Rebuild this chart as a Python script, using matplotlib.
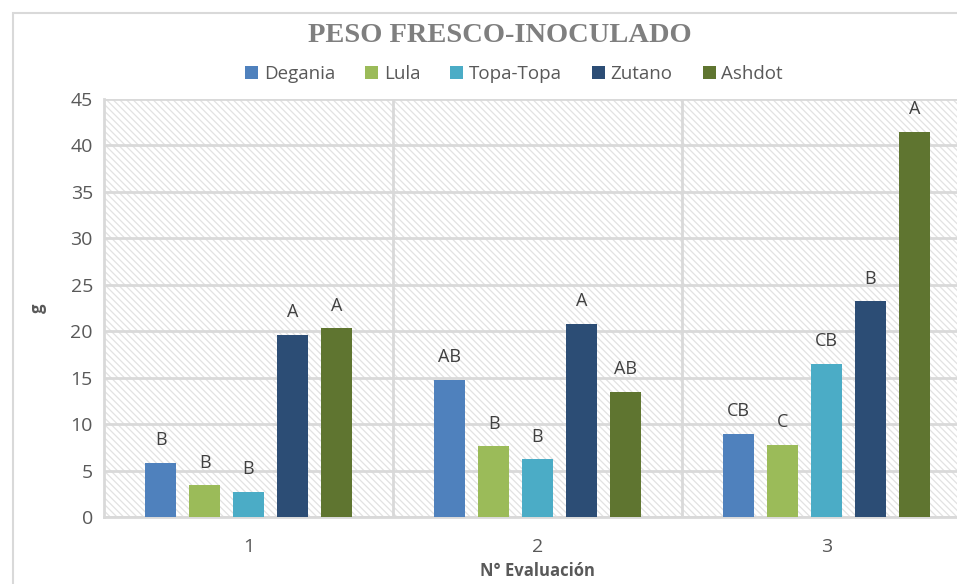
import numpy as np
import matplotlib.pyplot as plt
from matplotlib.patches import Rectangle

# data
evaluations = ['1', '2', '3']
varieties = ['Degania', 'Lula', 'Topa-Topa', 'Zutano', 'Ashdot']
degania = [5.8, 14.8, 8.9]
lula = [3.4, 7.6, 7.8]
topa = [2.7, 6.2, 16.5]
zutano = [19.6, 20.8, 23.2]
ashdot = [20.3, 13.5, 41.5]
letters = [['B', 'AB', 'CB'],
           ['B', 'B', 'C'],
           ['B', 'B', 'CB'],
           ['A', 'A', 'B'],
           ['A', 'AB', 'A']]

series = [degania, lula, topa, zutano, ashdot]
colors = ['#4F81BD', '#9BBB59', '#4BACC6', '#2C4D75', '#5F7530']
grey = '#595959'
font = 'Open Sans'
plt.rcParams['hatch.color'] = '#E2E2E2'
plt.rcParams['hatch.linewidth'] = 0.9

fig = plt.figure(figsize=(9.57, 5.84), dpi=100)
ax = fig.add_axes([104 / 957, 1 - 517 / 584, 867 / 957, 418 / 584])

# outer chart border
fig.patches.append(Rectangle((13 / 957, -0.1), 1.2, 1 - 13 / 584 + 0.1,
                             transform=fig.transFigure, fill=False,
                             edgecolor='#D9D9D9', linewidth=1.5, zorder=0))

x = np.arange(len(evaluations))
step = 0.152
width = 0.107

# hatched plot area background
ax.add_patch(Rectangle((-0.5, 0), 3, 45, facecolor='white', hatch='\\' * 5,
                       edgecolor='#E2E2E2', linewidth=0, zorder=0))

for i, (name, vals, c) in enumerate(zip(varieties, series, colors)):
    pos = x + (i - 2) * step
    ax.bar(pos, vals, width, color=c, label=name, zorder=3)
    for px, v, lab in zip(pos, vals, letters[i]):
        ax.annotate(lab, (px, v), xytext=(0, 10), textcoords='offset points',
                    ha='center', va='bottom', fontsize=13, color='#404040',
                    family=font)

ax.set_xlim(-0.5, 2.5)
ax.set_ylim(0, 45)
ax.set_yticks(np.arange(0, 46, 5))
ax.set_xticks(x)
ax.set_xticklabels(evaluations)
ax.grid(axis='y', color='#D9D9D9', linewidth=2, zorder=1)
for b in [0.5, 1.5]:
    ax.axvline(b, color='#D9D9D9', linewidth=2, zorder=1)
ax.set_axisbelow(True)
for s in ['top', 'right']:
    ax.spines[s].set_visible(False)
ax.spines['left'].set_color('#D9D9D9')
ax.spines['left'].set_linewidth(2)
ax.spines['bottom'].set_color('#D9D9D9')
ax.spines['bottom'].set_linewidth(2)
ax.tick_params(length=0, labelsize=14, labelcolor=grey)
ax.tick_params(axis='x', pad=15)
ax.tick_params(axis='y', pad=8)
for t in ax.get_xticklabels() + ax.get_yticklabels():
    t.set_family(font)

ax.set_ylabel('g', fontsize=12, fontweight='bold', color=grey, family=font,
              labelpad=17)
fig.text(537.5 / 957, 1 - 571 / 584, 'N° Evaluación', ha='center', va='center',
         fontsize=12, fontweight='bold', color=grey, family=font)

fig.text(500 / 957, 1 - 35 / 584, 'PESO FRESCO-INOCULADO', ha='center',
         va='center', fontsize=20.5, fontweight='bold', color='#7F7F7F',
         family='Liberation Serif')

fig.legend(loc='center', bbox_to_anchor=(514 / 957, 1 - 74 / 584), ncol=5,
           frameon=False, handlelength=0.7, handleheight=0.7,
           handletextpad=0.3, columnspacing=1.6,
           prop={'family': font, 'size': 13.5}, labelcolor=grey)

fig.savefig('out.png', dpi=100)
